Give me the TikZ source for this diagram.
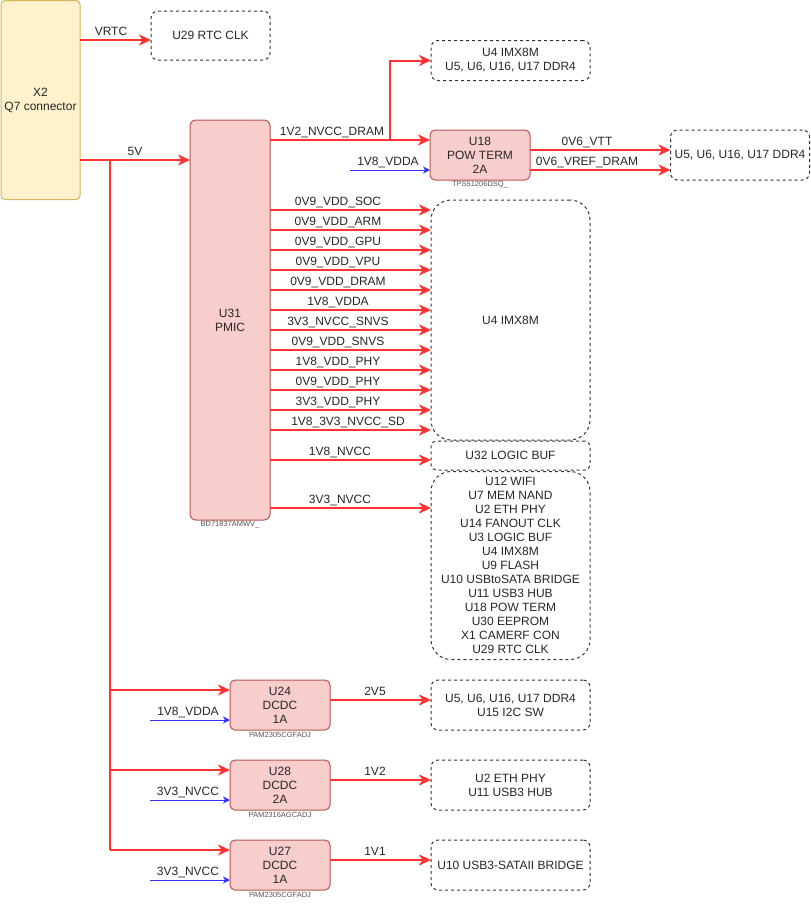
\documentclass[tikz,border=0pt]{standalone}
\usepackage{fontspec}
\setmainfont{Liberation Sans}
\usetikzlibrary{arrows.meta}
\definecolor{wirecol}{HTML}{FF3333}
\definecolor{sigblue}{HTML}{3333FF}
\definecolor{chipfill}{HTML}{F8CECC}
\definecolor{chipline}{HTML}{B85450}
\definecolor{connfill}{HTML}{FFF2CC}
\definecolor{connline}{HTML}{D6B656}
\definecolor{dashcol}{HTML}{333333}
\definecolor{partgray}{HTML}{555555}
\begin{document}
\begin{tikzpicture}[x=1pt,y=-1pt,
  every node/.style={font=\fontsize{12}{14}\selectfont, inner sep=0pt, outer sep=0pt, text=black!85},
  chip/.style={draw=chipline, fill=chipfill, line width=1pt, rounded corners=5pt, align=center},
  target/.style={draw=dashcol, line width=1pt, dash pattern=on 3pt off 3pt, rounded corners=7pt, align=center},
  wire/.style={draw=wirecol, line width=2pt, -{Stealth[length=12pt,width=11pt,inset=3.5pt]}},
  bus/.style={draw=wirecol, line width=2pt},
  sig/.style={draw=sigblue, line width=1pt, -{Stealth[length=7pt,width=7pt,inset=2pt]}},
  lbl/.style={anchor=base},
  part/.style={font=\fontsize{7.5}{9}\selectfont, text=partgray}]
\useasboundingbox (0,0) rectangle (811,906);

% nodes
\node[draw=connline, fill=connfill, line width=1pt, rounded corners=4pt, minimum width=79pt, minimum height=199pt, align=center] (x2) at (40.5,100) {X2\\Q7 connector};
\node[target, minimum width=119pt, minimum height=49pt] (u29) at (210.5,35.5) {U29 RTC CLK};
\node[chip, rounded corners=6pt, minimum width=80pt, minimum height=400pt] (u31) at (230,320) {U31\\PMIC};
\node[part] (p31) at (230,525) {BD71837AMWV\_};
\node[target, minimum width=159pt, minimum height=40pt] (u4a) at (510.5,60.5) {U4 IMX8M\\U5, U6, U16, U17 DDR4};
\node[chip, minimum width=100pt, minimum height=50pt] (u18) at (480,155) {U18\\POW TERM\\2A};
\node[part] (p18) at (480,185) {TPS51206DSQ\_};
\node[target, minimum width=139pt, minimum height=50pt] (ddr) at (740,155) {U5, U6, U16, U17 DDR4};
\node[target, rounded corners=20pt, minimum width=159pt, minimum height=240pt] (u4) at (510.5,320) {U4 IMX8M};
\node[target, rounded corners=5pt, minimum width=159pt, minimum height=29pt] (u32) at (510.5,455.5) {U32 LOGIC BUF};
\node[target, rounded corners=20pt, minimum width=159pt, minimum height=188pt] (lst) at (510.5,565.5) {U12 WIFI\\U7 MEM NAND\\U2 ETH PHY\\U14 FANOUT CLK\\U3 LOGIC BUF\\U4 IMX8M\\U9 FLASH\\U10 USBtoSATA BRIDGE\\U11 USB3 HUB\\U18 POW TERM\\U30 EEPROM\\X1 CAMERF CON\\U29 RTC CLK};

\node[chip, minimum width=100pt, minimum height=50pt] (u24) at (280,705) {U24\\DCDC\\1A};
\node[part] (p24) at (280,735) {PAM2305CGFADJ};
\node[target, minimum width=159pt, minimum height=50pt] (t24) at (510.5,705) {U5, U6, U16, U17 DDR4\\U15 I2C SW};
\node[chip, minimum width=100pt, minimum height=50pt] (u28) at (280,785) {U28\\DCDC\\2A};
\node[part] (p28) at (280,815) {PAM2316AGCADJ};
\node[target, minimum width=159pt, minimum height=50pt] (t28) at (510.5,785) {U2 ETH PHY\\U11 USB3 HUB};
\node[chip, minimum width=100pt, minimum height=50pt] (u27) at (280,865) {U27\\DCDC\\1A};
\node[part] (p27) at (280,895) {PAM2305CGFADJ};
\node[target, minimum width=159pt, minimum height=50pt] (t27) at (510.5,865) {U10 USB3-SATAII BRIDGE};

% connectors
\draw[wire] (x2.east |- 0,40) -- (u29.west |- 0,40);
\node[lbl] (lvrtc) at (111,35) {VRTC};

\coordinate (j) at (110,160);
\draw[wire] (x2.east |- j) -- (u31.west |- j);
\node[lbl] (l5v) at (135,155) {5V};
\draw[bus] (j) -- (j |- 0,850);
\draw[wire] (j |- 0,690) -- (u24.west |- 0,690);
\draw[wire] (j |- 0,770) -- (u28.west |- 0,770);
\draw[wire] (j |- 0,850) -- (u27.west |- 0,850);

\coordinate (k) at (390,140);
\draw[wire] (u31.east |- k) -- (u18.west |- k);
\draw[wire] (k) -- (k |- u4a) -- (u4a.west);
\node[lbl] (l12) at (332,135) {1V2\_NVCC\_DRAM};

\coordinate (b18) at (350,170);
\draw[sig] (b18) -- (u18.west |- b18);
\node[lbl] (lb18) at (388,165) {1V8\_VDDA};

\draw[wire] (u18.east |- 0,150) -- (ddr.west |- 0,150);
\node[lbl] (lvtt) at (587,145) {0V6\_VTT};
\draw[wire] (u18.east |- 0,170) -- (ddr.west |- 0,170);
\node[lbl] (lvref) at (587,165) {0V6\_VREF\_DRAM};

\foreach \yy/\xx/\txt in {210/338/0V9\_VDD\_SOC, 230/338/0V9\_VDD\_ARM, 250/338/0V9\_VDD\_GPU, 270/338/0V9\_VDD\_VPU, 290/338/0V9\_VDD\_DRAM, 310/338/1V8\_VDDA, 330/338/3V3\_NVCC\_SNVS, 350/338/0V9\_VDD\_SNVS, 370/338/1V8\_VDD\_PHY, 390/338/0V9\_VDD\_PHY, 410/338/3V3\_VDD\_PHY, 430/348/1V8\_3V3\_NVCC\_SD}{
  \draw[wire] (u31.east |- 0,\yy) -- (u4.west |- 0,\yy);
  \node[lbl] (pl\yy) at (\xx,\yy-5) {\txt};
}

\draw[wire] (u31.east |- 0,460) -- (u32.west |- 0,460);
\node[lbl] (l18n) at (340,455) {1V8\_NVCC};
\draw[wire] (u31.east |- 0,508) -- (lst.west |- 0,508);
\node[lbl] (l33n) at (340,503) {3V3\_NVCC};

\draw[wire] (u24.east |- 0,700) -- (t24.west |- 0,700);
\node[lbl] (l25) at (375,695) {2V5};
\draw[wire] (u28.east |- 0,780) -- (t28.west |- 0,780);
\node[lbl] (l12b) at (375,775) {1V2};
\draw[wire] (u27.east |- 0,860) -- (t27.west |- 0,860);
\node[lbl] (l11) at (375,855) {1V1};

\coordinate (b24) at (150,720);
\draw[sig] (b24) -- (u24.west |- b24);
\node[lbl] (lb24) at (188,715) {1V8\_VDDA};
\coordinate (b28) at (150,800);
\draw[sig] (b28) -- (u28.west |- b28);
\node[lbl] (lb28) at (188,795) {3V3\_NVCC};
\coordinate (b27) at (150,880);
\draw[sig] (b27) -- (u27.west |- b27);
\node[lbl] (lb27) at (188,875) {3V3\_NVCC};
\end{tikzpicture}
\end{document}
